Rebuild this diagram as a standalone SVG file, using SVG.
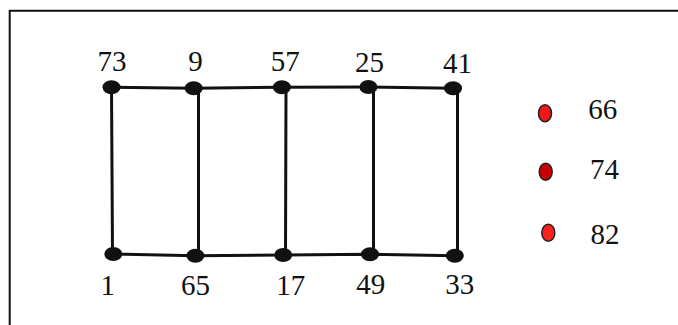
<svg xmlns="http://www.w3.org/2000/svg" width="678" height="325" viewBox="0 0 678 325">
<style>
.lbl{font-family:"Liberation Serif","Times New Roman",serif;font-size:29px;fill:#111;text-anchor:middle}
.edge{stroke:#111;stroke-width:3;fill:none;stroke-linecap:round}
.node{fill:#111}
.red{stroke:#222;stroke-width:1.5}
</style>
<rect x="0" y="0" width="678" height="325" fill="#fff"/>
<path d="M9.7 325 V10.7 H678" fill="none" stroke="#111" stroke-width="2"/>
<g id="connectors">
<path class="edge" d="M111.5 87.3 L193.7 88.3 L281.9 87.3 L368.4 87 L453 88.3"/>
<path class="edge" d="M113.3 254 L195.4 255.7 L283.2 255 L370 254.3 L454.8 255.7"/>
<line class="edge" x1="111.5" y1="87.3" x2="112.5" y2="254"/>
<line class="edge" x1="198.5" y1="88.3" x2="198.5" y2="255.7"/>
<line class="edge" x1="286" y1="87.3" x2="285.5" y2="255"/>
<line class="edge" x1="373.5" y1="87" x2="373.5" y2="254.3"/>
<line class="edge" x1="457.5" y1="88.3" x2="457.5" y2="255.7"/>
</g>
<g id="n73"><ellipse class="node" cx="111.5" cy="87.3" rx="9" ry="7"/><text class="lbl" x="112" y="70.5">73</text></g>
<g id="n9"><ellipse class="node" cx="193.7" cy="88.3" rx="9" ry="7"/><text class="lbl" x="195.4" y="71">9</text></g>
<g id="n57"><ellipse class="node" cx="281.9" cy="87.3" rx="9" ry="7"/><text class="lbl" x="285.3" y="71">57</text></g>
<g id="n25"><ellipse class="node" cx="368.4" cy="87" rx="9" ry="7"/><text class="lbl" x="369.6" y="72">25</text></g>
<g id="n41"><ellipse class="node" cx="453" cy="88.3" rx="9" ry="7"/><text class="lbl" x="457.4" y="73">41</text></g>
<g id="n1"><ellipse class="node" cx="113.3" cy="254" rx="9" ry="7"/><text class="lbl" x="107.8" y="295">1</text></g>
<g id="n65"><ellipse class="node" cx="195.4" cy="255.7" rx="9" ry="7"/><text class="lbl" x="195.5" y="295">65</text></g>
<g id="n17"><ellipse class="node" cx="283.2" cy="255" rx="9" ry="7"/><text class="lbl" x="290.8" y="295">17</text></g>
<g id="n49"><ellipse class="node" cx="370" cy="254.3" rx="9" ry="7"/><text class="lbl" x="370.8" y="294.3">49</text></g>
<g id="n33"><ellipse class="node" cx="454.8" cy="255.7" rx="9" ry="7"/><text class="lbl" x="459.7" y="294">33</text></g>
<g id="n66"><ellipse class="red" cx="545" cy="113.3" rx="6.5" ry="8.5" fill="#f01818"/><text class="lbl" x="602.8" y="119">66</text></g>
<g id="n74"><ellipse class="red" cx="545.7" cy="171.7" rx="6.5" ry="8.5" fill="#c80000"/><text class="lbl" x="604.5" y="179.3">74</text></g>
<g id="n82"><ellipse class="red" cx="548.3" cy="232.7" rx="6.5" ry="8.5" fill="#ff2020"/><text class="lbl" x="605" y="244">82</text></g>
</svg>
